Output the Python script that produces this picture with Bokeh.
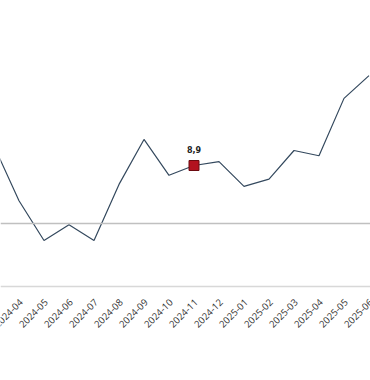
import math
from bokeh.plotting import figure
from bokeh.models import Range1d, Span, ColumnDataSource
from bokeh.core.properties import value
from bokeh.embed import file_html
from bokeh.resources import INLINE

months = ["2024-03", "2024-04", "2024-05", "2024-06", "2024-07", "2024-08",
          "2024-09", "2024-10", "2024-11", "2024-12", "2025-01", "2025-02",
          "2025-03", "2025-04", "2025-05", "2025-06"]
values = [11.9, 3.5, -2.6, -0.2, -2.6, 6.0, 12.9, 7.4, 8.9, 9.5, 5.7, 6.8,
          11.2, 10.4, 19.2, 22.7]
highlight_month = "2024-11"
highlight_label = "8,9"

xs = list(range(len(months)))
hi = months.index(highlight_month)
axis_base = -9.67

p = figure(width=370, height=380, output_backend="svg", toolbar_location=None,
           x_range=Range1d(0.26, 15.06), y_range=Range1d(-24.09, 34.22),
           x_axis_location=None, y_axis_location=None, min_border=0)
p.outline_line_color = None
p.grid.visible = False
p.background_fill_color = "white"
p.border_fill_color = "white"

p.add_layout(Span(location=0, dimension="width", line_color="#c0c0c0",
                  line_width=1.5))
p.add_layout(Span(location=axis_base, dimension="width", line_color="#d8d8d8",
                  line_width=1.5))

p.line(xs, values, line_color="#34495e", line_width=1.2)

src = ColumnDataSource(dict(x=[xs[hi]], y=[values[hi]], t=[highlight_label]))
p.scatter("x", "y", source=src, marker="square", size=10,
          fill_color="#b3121f", line_color="#6b0a10", line_width=1)
p.text("x", "y", text="t", source=src, x_offset=0, y_offset=-13,
       text_align="center", text_baseline="bottom",
       text_font=value("DejaVu Sans"), text_font_size="8px",
       text_font_style="bold", text_color="#222222")

lab = ColumnDataSource(dict(x=xs, y=[axis_base] * len(xs), t=months))
p.text("x", "y", text="t", source=lab, angle=math.pi / 4,
       x_offset=2, y_offset=14, text_align="right", text_baseline="middle",
       text_font=value("Open Sans"), text_font_size="9.5px",
       text_color="#333333")

open("out.html", "w").write(file_html(p, INLINE))
